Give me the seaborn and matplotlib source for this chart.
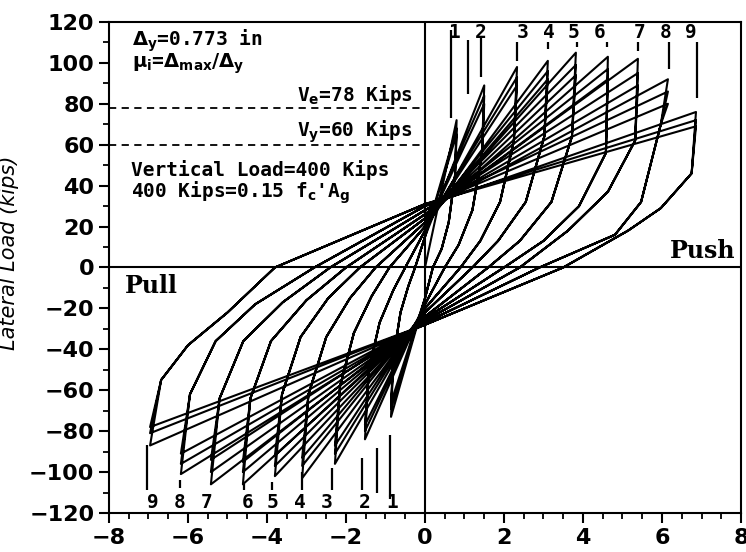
import numpy as np
import pandas as pd
import matplotlib
matplotlib.use('Agg')
import matplotlib.pyplot as plt
import seaborn as sns
from matplotlib.ticker import MultipleLocator

# peak displacement (in) and peak loads (kips) of the 3 sub-loops of each cycle
cycles = [1, 2, 3, 4, 5, 6, 7, 8, 9]
push_disp = [0.80, 1.50, 2.33, 3.11, 3.82, 4.63, 5.39, 6.15, 6.86]
push_load = [[72, 68, 65], [89, 84, 80], [98, 93, 89], [101, 96, 92], [105, 99, 94],
             [103, 97, 92], [102, 95, 89], [92, 86, 80], [76, 72, 69]]
pull_disp = [-0.86, -1.52, -2.28, -3.11, -3.80, -4.61, -5.42, -6.18, -6.96]
pull_load = [[-73, -69, -66], [-84, -80, -77], [-96, -91, -87], [-103, -97, -93], [-102, -97, -92],
             [-106, -100, -95], [-106, -100, -94], [-101, -96, -91], [-87, -81, -78]]

# unloading branch from the push peak: points
push_knee_x = [[0.76, 0.60, 0.42], [1.44, 1.20, 0.85], [2.25, 1.90, 1.40], [3.02, 2.55, 1.85],
               [3.72, 3.20, 2.40], [4.58, 3.90, 3.00], [5.32, 4.63, 3.62], [5.97, 5.47, 4.81],
               [6.75, 5.97, 5.14]]
push_knee_y = [[45, 22, 9], [55, 28, 11], [62, 32, 13], [64, 32, 13], [64, 32, 13],
               [56, 30, 13], [62, 37, 18], [70, 32, 16], [46, 29, 18]]
push_zero_x = [0.2, 0.5, 0.9, 1.2, 1.6, 2.0, 2.4, 2.9, 3.5]
push_cross_y = [-15, -18, -20, -22, -24, -25, -26, -27, -28]

# unloading branch from the pull peak
pull_knee_x = [[-0.80, -0.62, -0.42], [-1.42, -1.15, -0.80], [-2.15, -1.80, -1.35],
               [-2.95, -2.50, -1.90], [-3.62, -3.15, -2.45], [-4.42, -3.90, -3.00],
               [-5.20, -4.60, -3.60], [-5.95, -5.30, -4.30], [-6.68, -6.00, -5.00]]
pull_knee_y = [[-44, -22, -9], [-50, -27, -11], [-58, -32, -14], [-62, -34, -15], [-62, -34, -15],
               [-64, -36, -16], [-64, -36, -17], [-62, -36, -18], [-55, -38, -22]]
pull_zero_x = [-0.25, -0.5, -0.9, -1.25, -1.65, -2.0, -2.4, -2.8, -3.8]
pull_cross_y = [15, 18, 20, 22, 24, 26, 28, 30, 31]

# cycle number labels and marker lines
top_label_x = [0.75, 1.42, 2.46, 3.14, 3.75, 4.43, 5.44, 6.08, 6.73]
bot_label_x = [-0.83, -1.52, -2.48, -3.17, -3.85, -4.50, -5.52, -6.20, -6.89]
top_mark_x = [0.66, 1.09, 1.42, 2.33, 3.11, 3.85, 4.60, 5.39, 6.18, 6.89]
top_mark_lo = [73, 85, 93, 101, 107, 108, 108, 106, 97, 83]
top_mark_hi = [116, 111, 113, 110, 110, 110, 110, 110, 110, 110]
bot_mark_x = [-0.89, -1.21, -1.59, -2.35, -3.11, -3.88, -4.57, -6.20, -7.03]
bot_mark_lo = [-113, -110, -109, -109, -109, -109, -109, -108, -109]
bot_mark_hi = [-82, -88, -93, -98, -100, -105, -106, -104, -87]

ref_loads = [78, 60]
ref_labels = [r'V$_\mathbf{e}$=78 Kips', r'V$_\mathbf{y}$=60 Kips']

# build the loading path in order
xs, ys = [0.0], [0.0]
for k in range(len(cycles)):
    for j in range(3):
        xs += [push_disp[k]] + push_knee_x[k] + [push_zero_x[k], 0.0]
        ys += [push_load[k][j]] + push_knee_y[k] + [0.0, push_cross_y[k]]
        xs += [pull_disp[k]] + pull_knee_x[k] + [pull_zero_x[k], 0.0]
        ys += [pull_load[k][j]] + pull_knee_y[k] + [0.0, pull_cross_y[k]]
df = pd.DataFrame({'disp': xs, 'load': ys})

sns.set_style('ticks')
plt.rcParams['font.family'] = ['DejaVu Sans']

fig = plt.figure(figsize=(7.46, 5.52), dpi=100)
ax = fig.add_axes([0.1461, 0.0707, 0.8472, 0.8895])

sns.lineplot(data=df, x='disp', y='load', sort=False, estimator=None,
             color='black', lw=1.5, ax=ax)

ax.axhline(0, color='black', lw=1.5)
ax.axvline(0, color='black', lw=1.5)
ax.hlines(ref_loads, -8, 0, colors='black', linestyles=(0, (4, 3)), lw=1.3)

ax.vlines(top_mark_x, top_mark_lo, top_mark_hi, colors='black', lw=1.6)
ax.vlines(bot_mark_x, bot_mark_lo, bot_mark_hi, colors='black', lw=1.6)

mono = dict(family='DejaVu Sans Mono', fontweight='bold', fontsize=14, color='black')
for c, x in zip(cycles, top_label_x):
    ax.text(x, 115, str(c), ha='center', va='center', **mono)
for c, x in zip(cycles, bot_label_x):
    ax.text(x, -115, str(c), ha='center', va='center', **mono)

ax.text(-7.42, 111, r'$\mathbf{\Delta_y}$=0.773 in', ha='left', va='center', **mono)
ax.text(-7.42, 99.5, r'$\mathbf{\mu_i}$=$\mathbf{\Delta_{max}/\Delta_y}$', ha='left', va='center', **mono)
for yv, lab in zip(ref_loads, ref_labels):
    ax.text(-0.3, yv + 6.5, lab, ha='right', va='center', **mono)
ax.text(-7.44, 47.5, 'Vertical Load=400 Kips', ha='left', va='center', **mono)
ax.text(-7.44, 36.5, r"400 Kips=0.15 f$\mathbf{_c}$'A$\mathbf{_g}$", ha='left', va='center', **mono)

ax.text(-7.6, -9, 'Pull', ha='left', va='center', family='DejaVu Serif',
        fontweight='bold', fontsize=17, color='black')
ax.text(7.85, 8, 'Push', ha='right', va='center', family='DejaVu Serif',
        fontweight='bold', fontsize=17, color='black')

ax.set_xlim(-8, 8)
ax.set_ylim(-120, 120)
ax.xaxis.set_major_locator(MultipleLocator(2))
ax.xaxis.set_minor_locator(MultipleLocator(0.5))
ax.yaxis.set_major_locator(MultipleLocator(20))
ax.yaxis.set_minor_locator(MultipleLocator(10))
ax.set_xticklabels([f'{int(v)}'.replace('-', '\u2212') for v in ax.get_xticks()])
ax.set_yticklabels([f'{int(v)}'.replace('-', '\u2212') for v in ax.get_yticks()])
ax.tick_params(which='major', direction='out', length=7, width=1.5, labelsize=16,
               color='black', labelcolor='black')
ax.tick_params(which='minor', direction='out', length=4, width=1.3, color='black')
for lab in ax.get_xticklabels() + ax.get_yticklabels():
    lab.set_fontweight('bold')
for s in ax.spines.values():
    s.set_linewidth(1.5)
    s.set_color('black')

ax.set_xlabel('')
ax.set_ylabel('Lateral Load (kips)', fontsize=15, fontstyle='italic', color='black')
ax.yaxis.set_label_coords(-0.142, 0.53)

fig.savefig('out.png', dpi=100)
